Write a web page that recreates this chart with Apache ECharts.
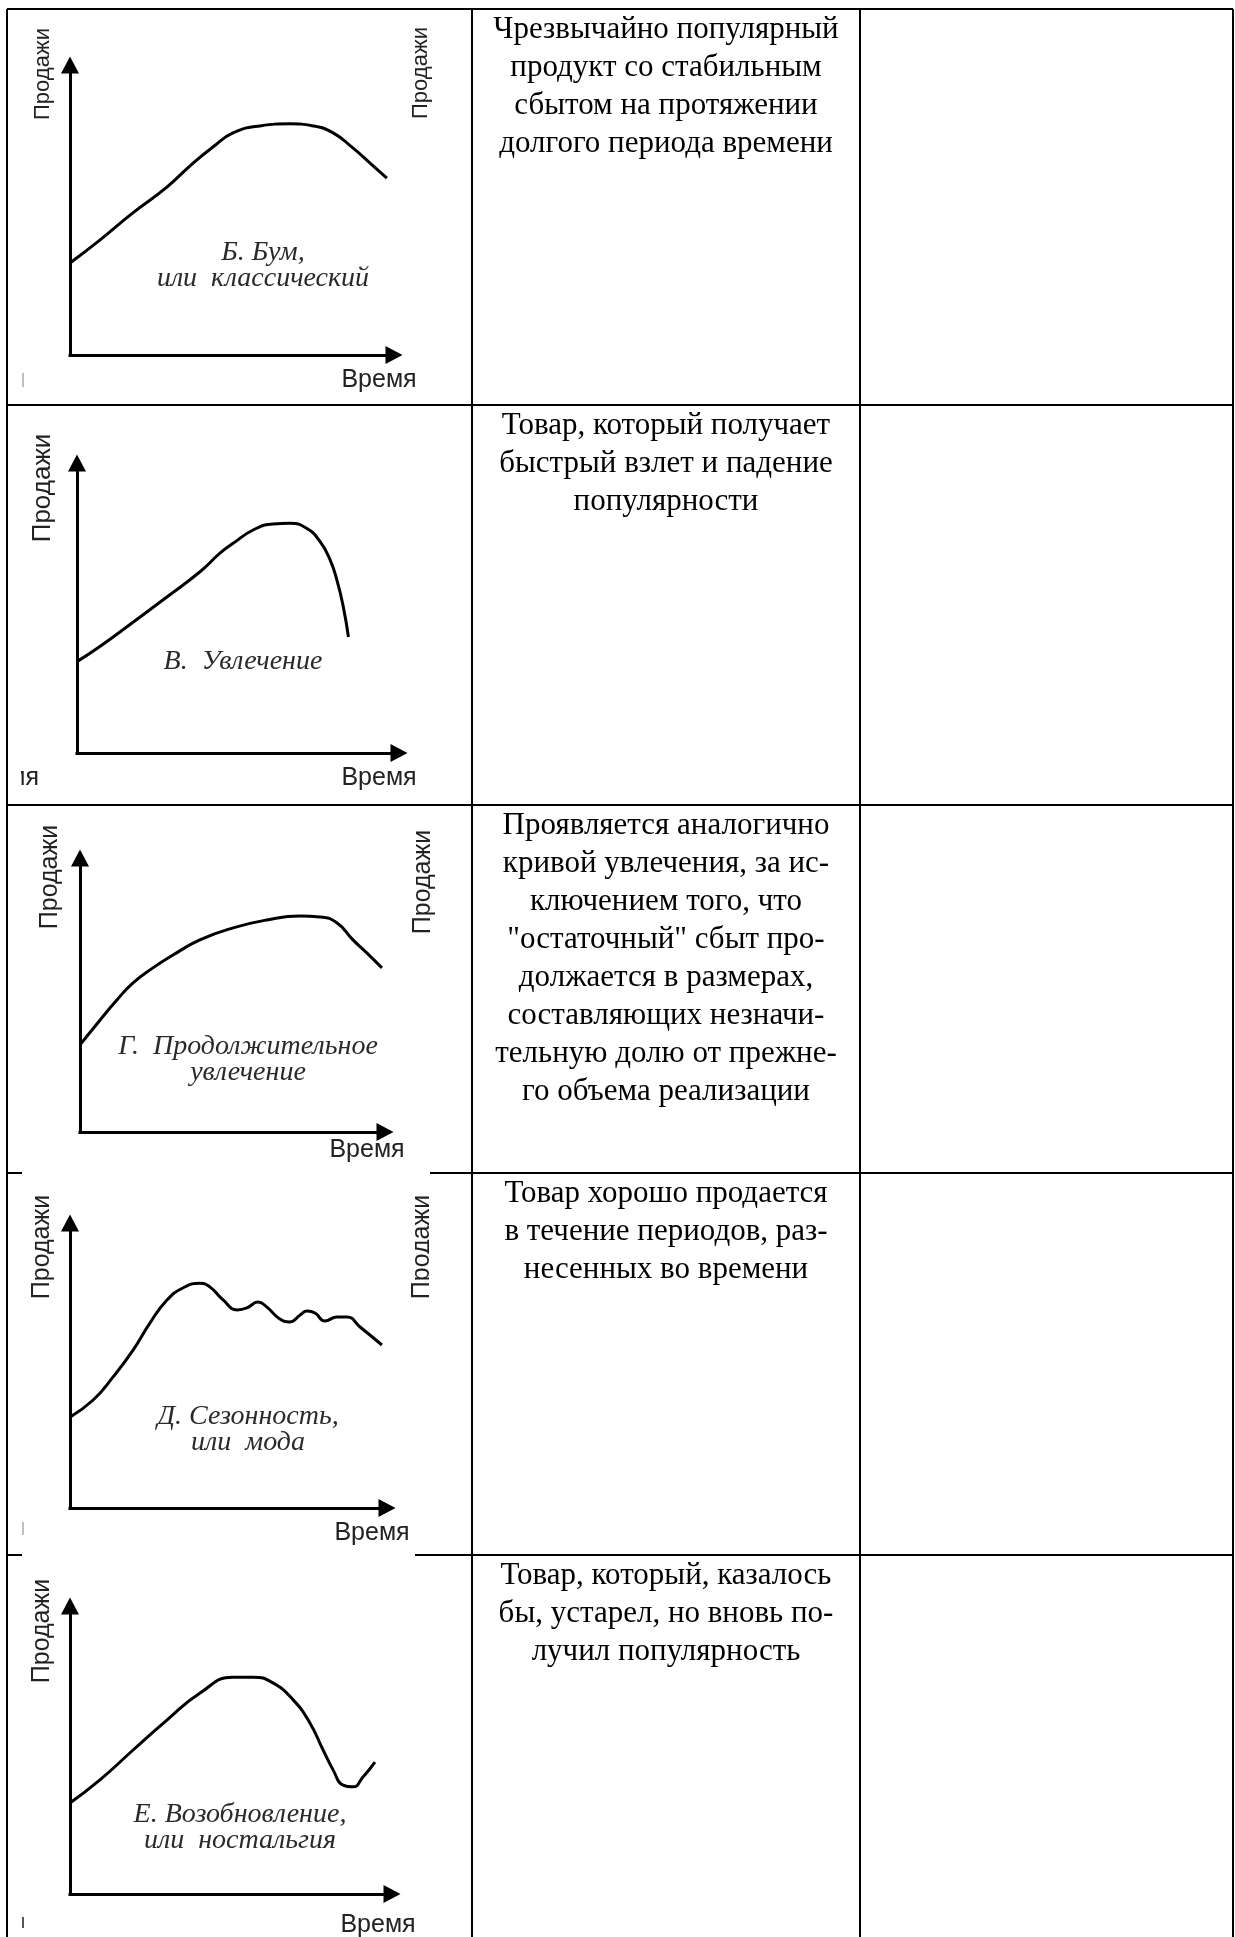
<!DOCTYPE html>
<html><head><meta charset="utf-8">
<script src="https://cdn.jsdelivr.net/npm/echarts@6/dist/echarts.min.js"></script>
<style>html,body{margin:0;padding:0;background:#fff}#c{width:1235px;height:1937px}</style>
</head><body><div id="c"></div>
<script>
// ---------- data (time 0..100, sales 0..100) ----------
const boomTime = [0, 9.3, 19.4, 29.9, 38.0, 44.1, 50.3, 58.6, 67.9, 75.0, 81.2, 87.3, 92.6, 97.8];
const boomSales = [31.7, 39.7, 49.0, 57.9, 66.2, 71.7, 76.6, 79.0, 79.7, 79.0, 76.6, 71.4, 66.2, 61.0];

const fadTime = [0, 7.1, 17.4, 27.8, 38.2, 44.4, 48.5, 54.7, 60.9, 66.1, 71.3, 75.5, 78.6, 80.7, 82.7, 84.3];
const fadSales = [31.5, 36.7, 45.1, 53.7, 62.5, 68.9, 72.3, 76.9, 79.0, 79.2, 77.5, 72.9, 66.6, 59.7, 50.4, 40.0];

const extFadTime = [0, 6.6, 12.1, 17.4, 23.9, 30.5, 39.3, 50.2, 61.3, 72.1, 78.7, 84.3, 89.5, 94.1, 99.0];
const extFadSales = [31.8, 40.9, 48.2, 54.4, 59.9, 64.6, 70.1, 74.5, 77.4, 78.8, 78.5, 76.3, 70.1, 65.3, 59.9];

const seasonTime = [0, 7.3, 13.6, 19.9, 25.2, 30.6, 35.6, 41.0, 44.2, 48.3, 52.7, 55.8, 59.3, 62.1, 66.2, 69.4, 72.6, 74.8, 77.3, 80.4, 84.2, 87.4, 91.5, 98.4];
const seasonSales = [31.9, 37.9, 46.0, 55.4, 64.9, 73.0, 77.2, 78.9, 77.5, 73.0, 69.5, 70.2, 72.3, 70.5, 66.3, 65.3, 67.7, 69.1, 68.4, 65.6, 67.0, 67.0, 63.5, 57.2];

const revivalTime = [0, 9.3, 19.6, 30.1, 40.4, 50.6, 56.8, 63.0, 69.3, 74.5, 78.6, 81.7, 84.8, 87.9, 91.0, 94.7];
const revivalSales = [31.6, 39.6, 50.0, 60.4, 69.8, 75.3, 75.3, 73.3, 67.4, 59.4, 50.0, 43.1, 37.8, 37.2, 40.6, 45.8];

const curveTimes = [boomTime, fadTime, extFadTime, seasonTime, revivalTime];
const curveSales = [boomSales, fadSales, extFadSales, seasonSales, revivalSales];

const salesLabel = 'Продажи';
const timeLabel = 'Время';

const curveCaptions = [
  ['Б. Бум,', 'или  классический'],
  ['В.  Увлечение'],
  ['Г.  Продолжительное', 'увлечение'],
  ['Д. Сезонность,', 'или  мода'],
  ['Е. Возобновление,', 'или  ностальгия']
];

const descriptions = [
  ['Чрезвычайно популярный', 'продукт со стабильным', 'сбытом на протяжении', 'долгого периода времени'],
  ['Товар, который получает', 'быстрый взлет и падение', 'популярности'],
  ['Проявляется аналогично', 'кривой увлечения, за ис-', 'ключением того, что', '"остаточный" сбыт про-', 'должается в размерах,', 'составляющих незначи-', 'тельную долю от прежне-', 'го объема реализации'],
  ['Товар хорошо продается', 'в течение периодов, раз-', 'несенных во времени'],
  ['Товар, который, казалось', 'бы, устарел, но вновь по-', 'лучил популярность']
];

// ---------- layout ----------
const panels = [
  {left: 70, top: 65, width: 324, height: 290, sx: 43, sy: 74, ss: 22, cx: 263, cy: 253, tx: 379, ty: 380, right: {x: 421, y: 73, s: 22}},
  {left: 77, top: 463, width: 322, height: 290, sx: 43, sy: 488, ss: 26, cx: 243, cy: 662, tx: 379, ty: 778},
  {left: 80, top: 858, width: 305, height: 274, sx: 50, sy: 877, ss: 25, cx: 248, cy: 1047, tx: 367, ty: 1150, right: {x: 423, y: 882, s: 25}},
  {left: 70, top: 1223, width: 317, height: 285, sx: 42, sy: 1247, ss: 25, cx: 248, cy: 1417, tx: 372, ty: 1533, right: {x: 422, y: 1247, s: 25, cut: true}},
  {left: 70, top: 1606, width: 322, height: 288, sx: 42, sy: 1631, ss: 25, cx: 240, cy: 1815, tx: 378, ty: 1925}
];
const rowTops = [9, 405, 805, 1173, 1555];
const tableLeft = 7, tableRight = 1233, col1 = 472, col2 = 860, tableBottom = 1937;

const chart = echarts.init(document.getElementById('c'), null, {renderer: 'canvas'});

const axisBase = () => ({
  type: 'value', min: 0, max: 100,
  axisLine: {show: true, onZero: false, symbol: ['none', 'triangle'], symbolSize: [18, 17],
    lineStyle: {color: '#000', width: 3, cap: 'square'}},
  axisTick: {show: false}, axisLabel: {show: false}, splitLine: {show: false}
});

const grids = panels.map(p => ({left: p.left, top: p.top, width: p.width, height: p.height, containLabel: false, outerBoundsMode: 'none'}));
const xAxes = panels.map((p, i) => Object.assign(axisBase(), {gridIndex: i, position: 'bottom'}));
const yAxes = panels.map((p, i) => Object.assign(axisBase(), {gridIndex: i, position: 'left'}));
const series = panels.map((p, i) => ({
  type: 'line', xAxisIndex: i, yAxisIndex: i,
  data: curveTimes[i].map((t, k) => [t, curveSales[i][k]]),
  smooth: 0.5, symbol: 'none', showSymbol: false,
  lineStyle: {color: '#000', width: 3}, silent: true, clip: false
}));

const g = [];
const sansFont = (s) => s + 'px "Liberation Sans", Arial, sans-serif';
const line = (x1, y1, x2, y2, w, c, z) => g.push({type: 'line', shape: {x1, y1, x2, y2}, style: {stroke: c || '#000', lineWidth: w || 2}, z: z || 10, silent: true});

panels.forEach((p, i) => {
  g.push({type: 'text', x: p.sx, y: p.sy, rotation: Math.PI / 2, z: 1,
    style: {text: salesLabel, font: sansFont(p.ss), fill: '#222', align: 'center', verticalAlign: 'middle'}});
  if (p.right) {
    g.push({type: 'text', x: p.right.x, y: p.right.y, rotation: Math.PI / 2, z: 1,
      style: {text: salesLabel, font: sansFont(p.right.s), fill: '#222', align: 'center', verticalAlign: 'middle'}});
    if (p.right.cut) g.push({type: 'rect', shape: {x: 429, y: p.right.y - 70, width: 32, height: 140}, style: {fill: '#fff'}, z: 2});
  }
  g.push({type: 'text', x: p.tx, y: p.ty, z: 1,
    style: {text: timeLabel, font: sansFont(25), fill: '#222', align: 'center', verticalAlign: 'middle'}});
  curveCaptions[i].forEach((c, k) => {
    g.push({type: 'text', x: p.cx, y: p.cy + k * 26, z: 1,
      style: {text: c, font: 'italic 28px "Liberation Serif", "Times New Roman", serif', fill: '#2a2a2a', align: 'center', verticalAlign: 'middle'}});
  });
  g.push({type: 'text', x: (col1 + col2) / 2, y: rowTops[i] + 1.5, z: 1,
    style: {text: descriptions[i].join('\n'), font: '31px "Liberation Serif", "Times New Roman", serif', lineHeight: 38,
      fill: '#000', align: 'center', verticalAlign: 'top'}});
});

// clipped fragment of a neighbouring label (row 2, left edge)
g.push({type: 'text', x: 39, y: 778, z: 1, style: {text: timeLabel, font: sansFont(25), fill: '#222', align: 'right', verticalAlign: 'middle'}});
g.push({type: 'rect', shape: {x: 0, y: 760, width: 21, height: 36}, style: {fill: '#fff'}, z: 2});
// tiny scan remnants
line(23, 373, 23, 387, 1.5, '#aaa', 3);
line(23, 1522, 23, 1535, 1.5, '#aaa', 3);
line(23, 1917, 23, 1928, 2, '#555', 3);

// table grid
line(tableLeft, rowTops[0], tableLeft, tableBottom);
line(tableRight, rowTops[0], tableRight, tableBottom);
line(col1, rowTops[0], col1, tableBottom);
line(col2, rowTops[0], col2, tableBottom);
line(tableLeft, rowTops[0], tableRight, rowTops[0]);
line(tableLeft, rowTops[1], tableRight, rowTops[1]);
line(tableLeft, rowTops[2], tableRight, rowTops[2]);
line(tableLeft, rowTops[3], 22, rowTops[3]);
line(430, rowTops[3], tableRight, rowTops[3]);
line(tableLeft, rowTops[4], 22, rowTops[4]);
line(415, rowTops[4], tableRight, rowTops[4]);

chart.setOption({
  animation: false,
  backgroundColor: '#fff',
  grid: grids, xAxis: xAxes, yAxis: yAxes, series: series,
  graphic: {elements: g}
});
</script>
</body></html>
